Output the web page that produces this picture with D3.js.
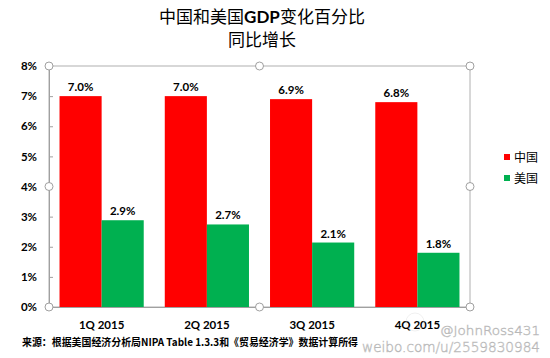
<!DOCTYPE html>
<html><head><meta charset="utf-8">
<script src="https://cdn.jsdelivr.net/npm/d3@7"></script>
<style>
html,body{margin:0;padding:0;background:#fff;}
svg{display:block;}
</style></head>
<body>
<svg id="chart" width="550" height="358"></svg>
<script>
const categories = ["1Q 2015", "2Q 2015", "3Q 2015", "4Q 2015"];
const seriesNames = ["中国", "美国"];
const chinaValues = [0.070, 0.070, 0.069, 0.068];
const usValues = [0.0288, 0.0274, 0.0214, 0.0180];
const yTicks = [0, 0.01, 0.02, 0.03, 0.04, 0.05, 0.06, 0.07, 0.08];
const colors = ["#ff0000", "#00b050"];

(function () {
const svg = d3.select("#chart");
const pL = 49, pR = 470, pT = 66, pB = 307;
const cjk = "'Noto Sans CJK SC', sans-serif";
const latin = "Lato, 'Liberation Sans', sans-serif";

const x = d3.scaleBand().domain(categories).range([pL, pR]).paddingInner(0.2).paddingOuter(0.1);
const xs = d3.scaleBand().domain(seriesNames).range([0, x.bandwidth()]);
const y = d3.scaleLinear().domain([0, 0.08]).range([pB, pT]);

// title
const title = svg.append("text").attr("x", 262).attr("y", 23).attr("text-anchor", "middle")
  .attr("font-size", 17).attr("font-family", cjk).attr("fill", "#000");
title.append("tspan").text("中国和美国");
title.append("tspan").attr("font-family", latin).attr("font-weight", "bold").text("GDP");
title.append("tspan").text("变化百分比");
svg.append("text").attr("x", 262).attr("y", 46).attr("text-anchor", "middle")
  .attr("font-size", 17).attr("font-family", cjk).text("同比增长");

// plot border
svg.append("rect").attr("x", pL).attr("y", pT).attr("width", pR - pL).attr("height", pB - pT)
  .attr("fill", "none").attr("stroke", "#b0b0b0").attr("stroke-width", 1);

// bars
const data = [chinaValues, usValues];
data.forEach((vals, si) => {
  svg.append("g").selectAll("rect").data(vals).join("rect")
    .attr("x", (d, i) => x(categories[i]) + xs(seriesNames[si]))
    .attr("y", d => y(d))
    .attr("width", xs.bandwidth())
    .attr("height", d => y(0) - y(d))
    .attr("fill", colors[si]);
  svg.append("g").selectAll("text").data(vals).join("text")
    .attr("x", (d, i) => x(categories[i]) + xs(seriesNames[si]) + xs.bandwidth() / 2)
    .attr("y", d => y(d) - 5)
    .attr("text-anchor", "middle")
    .attr("font-family", latin).attr("font-weight", "bold").attr("font-size", 11.5)
    .attr("fill", "#000")
    .text(d => d3.format(".1%")(d));
});

// y axis
const yAxis = d3.axisLeft(y).tickValues(yTicks).tickFormat(d3.format(".0%")).tickSizeInner(-4).tickSizeOuter(0).tickPadding(12);
const ga = svg.append("g").attr("transform", `translate(${pL},0)`).call(yAxis);
ga.select(".domain").attr("stroke", "#a0a0a0");
ga.selectAll(".tick line").attr("stroke", "#a0a0a0");
ga.selectAll(".tick text").attr("font-family", latin).attr("font-weight", "bold").attr("font-size", 11.5).attr("fill", "#000");

// x axis
const xAxis = d3.axisBottom(x).tickSize(0).tickPadding(14);
const gx = svg.append("g").attr("transform", `translate(0,${pB})`).call(xAxis);
gx.select(".domain").attr("stroke", "#a0a0a0");
gx.selectAll(".tick text").attr("font-family", latin).attr("font-weight", "bold").attr("font-size", 11.5).attr("fill", "#000");

// selection handles
const mx = (pL + pR) / 2, my = (pT + pB) / 2;
const handles = [[pL, pT], [mx, pT], [pR, pT], [pL, my], [pR, my], [pL, pB], [mx, pB], [pR, pB]];
svg.append("g").selectAll("circle").data(handles).join("circle")
  .attr("cx", d => d[0]).attr("cy", d => d[1]).attr("r", 4)
  .attr("fill", "#fff").attr("stroke", "#a0a0a0").attr("stroke-width", 1);

// legend
const lg = svg.append("g");
seriesNames.forEach((n, i) => {
  lg.append("rect").attr("x", 504).attr("y", 154 + i * 21).attr("width", 6).attr("height", 6).attr("fill", colors[i]);
  lg.append("text").attr("x", 514).attr("y", 161.5 + i * 21).attr("font-family", cjk).attr("font-size", 12).attr("fill", "#000").text(n);
});

// footer
svg.append("text").attr("x", 22).attr("y", 346).attr("font-family", cjk).attr("font-weight", "bold")
  .attr("font-size", 10.5).attr("textLength", 336).attr("lengthAdjust", "spacingAndGlyphs")
  .text("来源：根据美国经济分析局NIPA Table 1.3.3和《贸易经济学》数据计算所得");

// watermark
const wm = svg.append("g").attr("font-family", "'DejaVu Sans', sans-serif").attr("font-weight", "200")
  .attr("fill", "#f4f4f4").attr("stroke", "#b8b8b8").attr("stroke-width", 0.5);
wm.append("circle").attr("cx", 415).attr("cy", 322).attr("r", 9).attr("fill", "none").attr("stroke", "#e0e0e0");
wm.append("text").attr("x", 440).attr("y", 335).attr("font-size", 13).attr("textLength", 100).attr("lengthAdjust", "spacingAndGlyphs").text("@JohnRoss431");
wm.append("text").attr("x", 362).attr("y", 352).attr("font-size", 14).attr("textLength", 178).attr("lengthAdjust", "spacingAndGlyphs").text("weibo.com/u/2559830984");
})();
</script>
</body></html>
